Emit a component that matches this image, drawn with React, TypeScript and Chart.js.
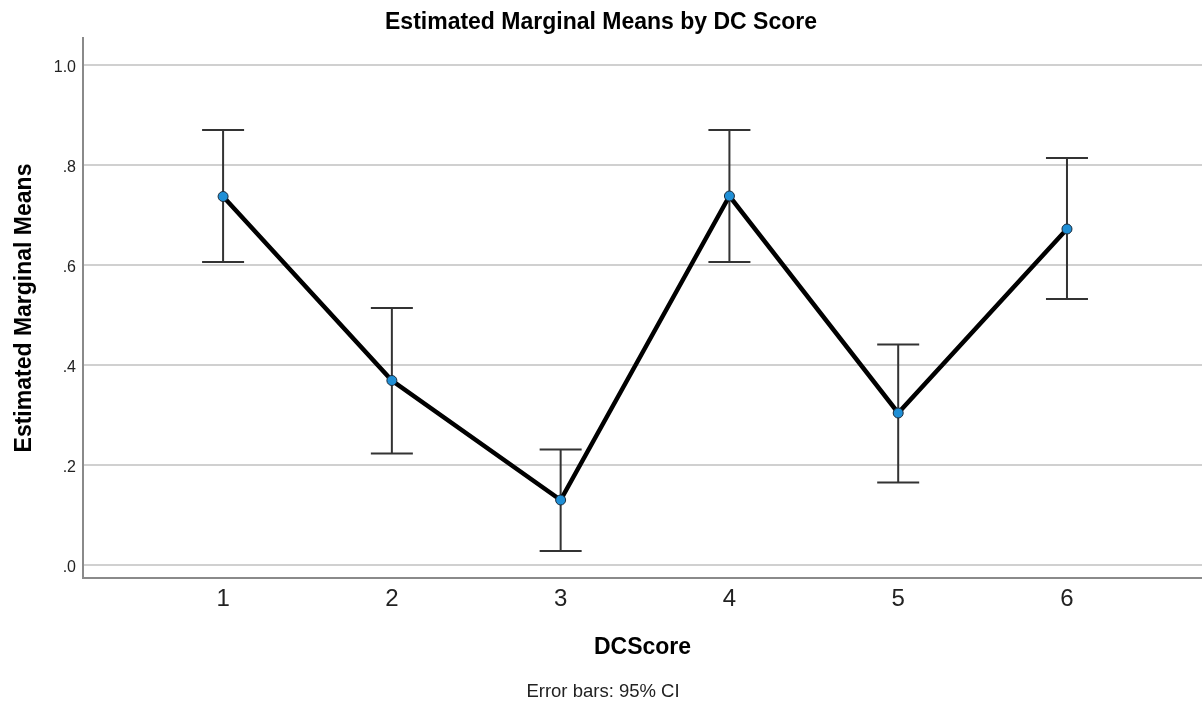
import React, { useEffect, useRef } from "react";
import { Chart, registerables } from "chart.js";

Chart.register(...registerables);

const categories = [1, 2, 3, 4, 5, 6];
const means = [0.737, 0.369, 0.130, 0.738, 0.304, 0.672];
const lowerCI = [0.606, 0.223, 0.028, 0.606, 0.165, 0.532];
const upperCI = [0.870, 0.514, 0.231, 0.870, 0.441, 0.814];
const yTicks = [0, 0.2, 0.4, 0.6, 0.8, 1.0];

const chartTitle = "Estimated Marginal Means by DC Score";
const xTitle = "DCScore";
const yTitle = "Estimated Marginal Means";
const footnote = "Error bars: 95% CI";

const FONT = "'Liberation Sans', Arial, sans-serif";

const errorBarPlugin = {
  id: "errorBars",
  beforeDatasetsDraw(chart: any) {
    const { ctx } = chart;
    const xs = chart.scales.x;
    const ys = chart.scales.y;
    ctx.save();
    ctx.strokeStyle = "#333333";
    ctx.lineWidth = 2;
    const half = 21;
    categories.forEach((c, i) => {
      const x = xs.getPixelForValue(c);
      const yl = ys.getPixelForValue(lowerCI[i]);
      const yu = ys.getPixelForValue(upperCI[i]);
      ctx.beginPath();
      ctx.moveTo(x, yl);
      ctx.lineTo(x, yu);
      ctx.moveTo(x - half, yu);
      ctx.lineTo(x + half, yu);
      ctx.moveTo(x - half, yl);
      ctx.lineTo(x + half, yl);
      ctx.stroke();
    });
    ctx.restore();
  },
};

const textPlugin = {
  id: "texts",
  afterDraw(chart: any) {
    const { ctx, chartArea } = chart;
    ctx.save();
    ctx.fillStyle = "#000000";
    ctx.textAlign = "center";
    ctx.textBaseline = "middle";
    ctx.font = `bold 23px ${FONT}`;
    ctx.fillText(chartTitle, 601, 23);
    ctx.font = `bold 23px ${FONT}`;
    ctx.fillText(xTitle, (chartArea.left + chartArea.right) / 2, 648);
    ctx.fillStyle = "#222222";
    ctx.font = `18.5px ${FONT}`;
    ctx.fillText(footnote, 603, 692);
    ctx.fillStyle = "#000000";
    ctx.translate(25, (chartArea.top + chartArea.bottom) / 2);
    ctx.rotate(-Math.PI / 2);
    ctx.font = `bold 23px ${FONT}`;
    ctx.fillText(yTitle, 0, 0);
    ctx.restore();
  },
};

export default function App() {
  const ref = useRef<HTMLCanvasElement | null>(null);
  useEffect(() => {
    if (!ref.current) return;
    const chart = new Chart(ref.current, {
      type: "scatter",
      data: {
        datasets: [
          {
            data: categories.map((c, i) => ({ x: c, y: means[i] })),
            showLine: true,
            borderColor: "#000000",
            borderWidth: 4.5,
            pointBackgroundColor: "#1f8fd6",
            pointBorderColor: "#1a2a3a",
            pointBorderWidth: 1,
            pointRadius: 5,
          },
        ],
      },
      options: {
        responsive: false,
        animation: false,
        devicePixelRatio: 1,
        layout: { autoPadding: false, padding: { top: 38, right: 0, bottom: 0, left: 0 } },
        plugins: {
          legend: { display: false },
          tooltip: { enabled: false },
          title: { display: false },
        },
        scales: {
          x: {
            type: "linear",
            min: 0.17,
            max: 6.8,
            afterBuildTicks: (s: any) => {
              s.ticks = categories.map((v) => ({ value: v }));
            },
            afterFit: (s: any) => {
              s.height = 124;
              s.paddingLeft = 0;
              s.paddingRight = 0;
            },
            grid: { display: false, drawTicks: false, tickLength: 0 },
            border: { display: true, color: "#8a8a8a", width: 2 },
            ticks: {
              padding: 7,
              color: "#222222",
              font: { family: FONT, size: 24 },
              callback: (v: any) => String(v),
            },
          },
          y: {
            type: "linear",
            min: -0.026,
            max: 1.054,
            afterBuildTicks: (s: any) => {
              s.ticks = yTicks.map((v) => ({ value: v }));
            },
            afterFit: (s: any) => {
              s.width = 83;
              s.paddingTop = 0;
              s.paddingBottom = 0;
            },
            grid: { color: "#d0d0d0", lineWidth: 2, drawTicks: false, tickLength: 0 },
            border: { display: true, color: "#8a8a8a", width: 2 },
            ticks: {
              padding: 7,
              labelOffset: 3,
              color: "#222222",
              font: { family: FONT, size: 16 },
              callback: (v: any) => {
                const n = Number(v);
                return n === 1 ? "1.0" : n.toFixed(1).replace(/^0/, "");
              },
            },
          },
        },
      },
      plugins: [errorBarPlugin, textPlugin],
    });
    return () => chart.destroy();
  }, []);
  return (
    <div style={{ position: "absolute", left: 0, top: 0, width: 1202, height: 702, background: "#fff" }}>
      <canvas ref={ref} width={1202} height={702} style={{ display: "block" }} />
    </div>
  );
}
